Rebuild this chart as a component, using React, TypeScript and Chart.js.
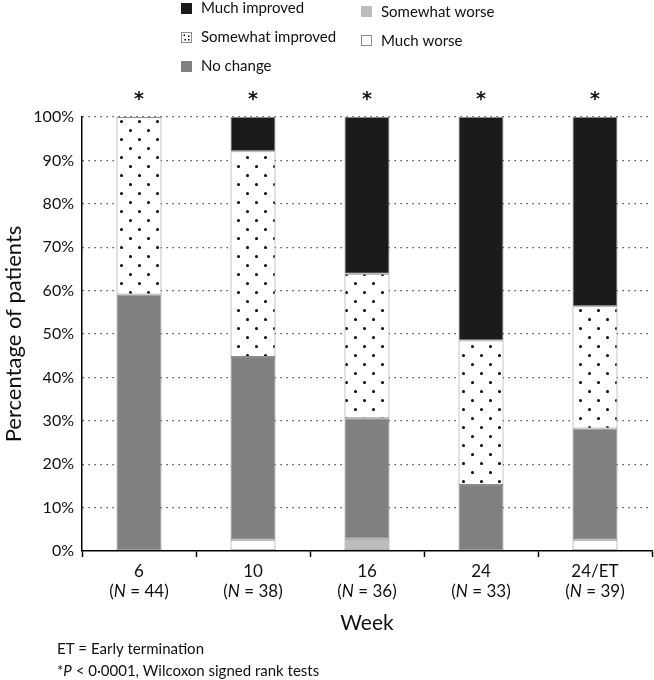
import React, { useEffect, useRef } from 'react';
import { Chart, registerables } from 'chart.js';

Chart.register(...registerables);

const weeks = ['6', '10', '16', '24', '24/ET'];
const sampleSizes = [44, 38, 36, 33, 39];
const muchWorse = [0, 2.6, 0, 0, 2.6];
const somewhatWorse = [0, 0, 2.8, 0, 0];
const noChange = [59.1, 42.1, 27.8, 15.2, 25.6];
const somewhatImproved = [40.9, 47.4, 33.3, 33.3, 28.2];
const muchImproved = [0, 7.9, 36.1, 51.5, 43.6];
const significant = [true, true, true, true, true];
const yTickStep = 10;

const FONT = 'Lato, "DejaVu Sans", sans-serif';
const C_MI = '#1b1b1b';
const C_NC = '#808080';
const C_SW = '#bdbdbd';
const C_BORDER = '#8c8c8c';

function makeDotPattern(): CanvasPattern | string {
  const c = document.createElement('canvas');
  c.width = 18;
  c.height = 18;
  const p = c.getContext('2d');
  if (!p) return '#fff';
  p.fillStyle = '#fff';
  p.fillRect(0, 0, 18, 18);
  p.fillStyle = '#000';
  [[4.5, 4.5], [13.5, 13.5]].forEach(([x, y]) => {
    p.beginPath();
    p.arc(x, y, 1.5, 0, Math.PI * 2);
    p.fill();
  });
  return p.createPattern(c, 'repeat') || '#fff';
}

const overlayPlugin = {
  id: 'overlay',
  afterDraw(chart: any) {
    const ctx: CanvasRenderingContext2D = chart.ctx;
    const xs = chart.scales.x;
    const area = chart.chartArea;
    ctx.save();
    ctx.fillStyle = '#111';

    // Legend
    const legendItems = [
      { label: 'Much improved', x: 181, y: 7.5, kind: 'mi' },
      { label: 'Somewhat improved', x: 181, y: 36.5, kind: 'si' },
      { label: 'No change', x: 181, y: 65.5, kind: 'nc' },
      { label: 'Somewhat worse', x: 361, y: 11, kind: 'sw' },
      { label: 'Much worse', x: 361, y: 40, kind: 'mw' },
    ];
    legendItems.forEach((it) => {
      const bx = it.x;
      const by = Math.round(it.y - 5) + 0.5;
      const s = 10;
      if (it.kind === 'mi') {
        ctx.fillStyle = C_MI;
        ctx.fillRect(bx, by - 0.5, s + 1, s + 1);
      } else if (it.kind === 'nc') {
        ctx.fillStyle = C_NC;
        ctx.fillRect(bx, by - 0.5, s + 1, s + 1);
      } else if (it.kind === 'sw') {
        ctx.fillStyle = C_SW;
        ctx.fillRect(bx, by - 0.5, s + 1, s + 1);
      } else {
        ctx.fillStyle = '#fff';
        ctx.fillRect(bx + 0.5, by, s, s);
        ctx.strokeStyle = C_BORDER;
        ctx.lineWidth = 1;
        ctx.strokeRect(bx + 0.5, by, s, s);
        if (it.kind === 'si') {
          ctx.fillStyle = '#000';
          [[2.5, 2.5], [7, 3.5], [3.5, 7], [7, 7]].forEach(([dx, dy]) => {
            ctx.fillRect(bx + dx, by + dy - 0.5, 1.5, 1.5);
          });
        }
      }
      ctx.fillStyle = '#111';
      ctx.font = `15px ${FONT}`;
      ctx.textBaseline = 'middle';
      ctx.textAlign = 'left';
      ctx.fillText(it.label, it.x + 20, it.y + 1);
    });

    // Asterisks
    ctx.font = `bold 19px "DejaVu Sans", sans-serif`;
    ctx.textAlign = 'center';
    ctx.textBaseline = 'middle';
    significant.forEach((sig, i) => {
      if (!sig) return;
      const x = xs.getPixelForValue(i);
      ctx.fillText('*', x, 100);
    });

    // X labels
    weeks.forEach((w, i) => {
      const x = xs.getPixelForValue(i);
      ctx.font = `17px ${FONT}`;
      ctx.textAlign = 'center';
      ctx.textBaseline = 'middle';
      ctx.fillText(w, x, 572);
      const a = '(';
      const b = 'N';
      const c = ` = ${sampleSizes[i]})`;
      ctx.font = `17px ${FONT}`;
      const wa = ctx.measureText(a).width;
      const wc = ctx.measureText(c).width;
      ctx.font = `italic 17px ${FONT}`;
      const wb = ctx.measureText(b).width;
      const total = wa + wb + wc;
      let cx = x - total / 2;
      ctx.textAlign = 'left';
      ctx.font = `17px ${FONT}`;
      ctx.fillText(a, cx, 592);
      cx += wa;
      ctx.font = `italic 17px ${FONT}`;
      ctx.fillText(b, cx, 592);
      cx += wb;
      ctx.font = `17px ${FONT}`;
      ctx.fillText(c, cx, 592);
    });

    // X title
    ctx.font = `21px ${FONT}`;
    ctx.textAlign = 'center';
    ctx.textBaseline = 'middle';
    ctx.fillText('Week', (area.left + area.right) / 2, 623);

    // Y title
    ctx.save();
    ctx.translate(14, (area.top + area.bottom) / 2);
    ctx.rotate(-Math.PI / 2);
    ctx.font = `22px ${FONT}`;
    ctx.textAlign = 'center';
    ctx.textBaseline = 'middle';
    ctx.fillText('Percentage of patients', 0, 0);
    ctx.restore();

    // Footnotes
    ctx.textAlign = 'left';
    ctx.textBaseline = 'middle';
    ctx.font = `15px ${FONT}`;
    ctx.fillText('ET = Early termination', 57, 649);
    let fx = 57;
    ctx.fillText('*', fx, 671);
    fx += ctx.measureText('*').width;
    ctx.font = `italic 15px ${FONT}`;
    ctx.fillText('P', fx, 671);
    fx += ctx.measureText('P').width;
    ctx.font = `15px ${FONT}`;
    ctx.fillText(' < 0·0001, Wilcoxon signed rank tests', fx, 671);

    ctx.restore();
  },
};

export default function App() {
  const ref = useRef<HTMLCanvasElement | null>(null);

  useEffect(() => {
    if (!ref.current) return;
    const dots = makeDotPattern();
    const common = {
      borderColor: C_BORDER,
      borderWidth: (c: any) => (c.raw ? 1 : 0),
      borderSkipped: false as const,
      categoryPercentage: 1,
      barPercentage: 0.395,
    };
    const chart = new Chart(ref.current, {
      type: 'bar',
      data: {
        labels: weeks,
        datasets: [
          { label: 'Much worse', data: muchWorse, backgroundColor: '#ffffff', ...common },
          { label: 'Somewhat worse', data: somewhatWorse, backgroundColor: C_SW, ...common },
          { label: 'No change', data: noChange, backgroundColor: C_NC, ...common },
          { label: 'Somewhat improved', data: somewhatImproved, backgroundColor: dots as any, ...common },
          { label: 'Much improved', data: muchImproved, backgroundColor: C_MI, ...common },
        ],
      },
      options: {
        animation: false,
        responsive: false,
        maintainAspectRatio: false,
        layout: { padding: { top: 117, left: 8, right: 2, bottom: 0 } },
        plugins: {
          legend: { display: false },
          tooltip: { enabled: false },
        },
        scales: {
          x: {
            stacked: true,
            offset: true,
            grid: {
              offset: true,
              drawOnChartArea: false,
              drawTicks: true,
              tickLength: 6,
              tickColor: '#000',
              tickWidth: 1.5,
              color: '#000',
            },
            border: { color: '#000', width: 1.5 },
            ticks: { display: false },
            afterFit: (s: any) => {
              s.height = 129;
            },
          },
          y: {
            stacked: true,
            min: 0,
            max: 100,
            ticks: {
              stepSize: yTickStep,
              callback: (v: any) => `${v}%`,
              font: { family: FONT, size: 16 },
              color: '#111',
              padding: 8,
            },
            grid: {
              drawTicks: false,
              color: (c: any) => (c.tick && c.tick.value === 0 ? 'rgba(0,0,0,0)' : '#333'),
              lineWidth: 1.3,
            },
            border: { color: '#000', width: 1.5, dash: [1.3, 4.7] },
            afterFit: (s: any) => {
              s.width = 74;
            },
          },
        },
      },
      plugins: [overlayPlugin],
    });
    return () => chart.destroy();
  }, []);

  return (
    <div style={{ position: 'absolute', left: 0, top: 0, width: 654, height: 680, background: '#fff' }}>
      <canvas ref={ref} width={654} height={680} style={{ display: 'block' }} />
    </div>
  );
}
